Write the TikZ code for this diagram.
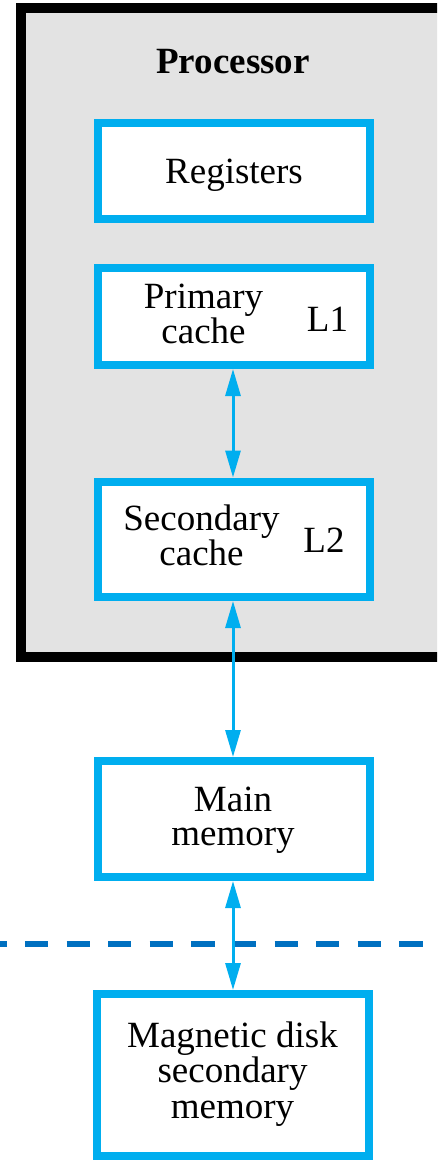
\documentclass[tikz,border=0pt]{standalone}
\usepackage{fontspec}
\setmainfont{Liberation Serif}
\usetikzlibrary{arrows.meta}
\definecolor{cyanline}{HTML}{00AEEF}
\definecolor{dashblue}{HTML}{0070C0}
\definecolor{procgrey}{HTML}{E3E3E3}
\begin{document}
\begin{tikzpicture}[x=1pt,y=-1pt,
  memblock/.style={draw=cyanline, line width=8pt, fill=white, inner sep=0pt,
    minimum width=272pt},
  lbl/.style={font=\fontsize{37}{33.5}\selectfont, align=center, anchor=base, inner sep=0pt},
  link/.style={draw=cyanline, line width=3pt,
    {Triangle[length=27pt,width=15pt]}-{Triangle[length=27pt,width=15pt]}}]
  \useasboundingbox (0,0) rectangle (437,1160);
  \clip (0,0) rectangle (437,1160);

  % processor enclosure
  \node[draw=black, line width=9.5pt, fill=procgrey, inner sep=0pt,
        minimum width=439pt, minimum height=649pt] (proc) at (240.5,332.5) {};
  \node[lbl, font=\fontsize{37}{33.5}\selectfont\bfseries] (proctitle) at (233,73) {Processor};

  % memory levels
  \node[memblock, minimum height=96.5pt] (reg) at (233.5,170.75) {};
  \node[memblock, minimum height=97.5pt] (l1) at (233.5,316.25) {};
  \node[memblock, minimum height=115.5pt] (l2) at (233.5,539.25) {};
  \node[memblock, minimum height=116pt] (main) at (233.5,819) {};
  \node[memblock, minimum height=162pt] (disk) at (233,1075) {};

  % labels (base anchor sits on the last line's baseline)
  \node[lbl] (regtxt) at (234,183) {Registers};
  \node[lbl] (l1txt) at (203.5,343) {Primary\\cache};
  \node[lbl] (l1tag) at (327.5,331) {L1};
  \node[lbl] (l2txt) at (201.5,565) {Secondary\\cache};
  \node[lbl] (l2tag) at (324,552) {L2};
  \node[lbl] (maintxt) at (233,845) {Main\\memory};
  \node[lbl, font=\fontsize{37}{35.5}\selectfont] (disktxt) at (232.5,1118) {Magnetic disk\\secondary\\memory};

  % boundary between primary and secondary storage
  \coordinate (dashL) at (-16.7,944);
  \coordinate (dashR) at (460,944);
  \draw[dashblue, line width=6pt, dash pattern=on 23.3pt off 18.3pt] (dashL) -- (dashR);

  % transfers between levels
  \draw[link] (l1.south -| 233,0) -- (l2.north -| 233,0);
  \draw[link] (l2.south -| 233,0) -- (main.north -| 233,0);
  \draw[link] (main.south -| 233,0) -- (disk.north -| 233,0);
\end{tikzpicture}
\end{document}
